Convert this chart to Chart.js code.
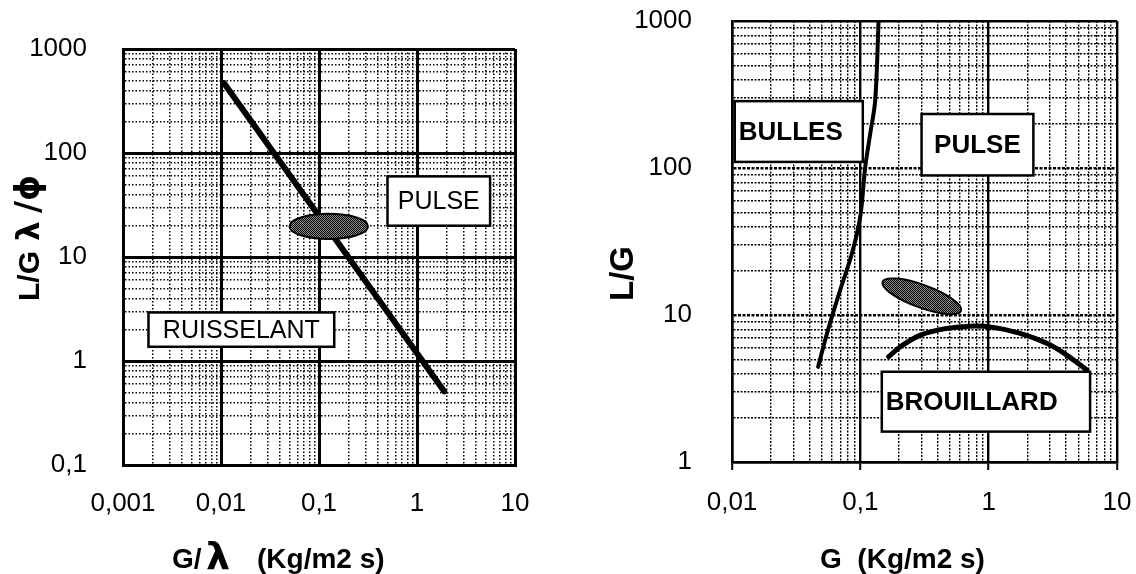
<!DOCTYPE html>
<html>
<head>
<meta charset="utf-8">
<title>Régimes d'écoulement</title>
<script src="https://cdn.jsdelivr.net/npm/chart.js@4.4.1/dist/chart.umd.min.js"></script>
<style>
  body { margin: 0; background: #fff; }
  #left { position: absolute; left: 0; top: 0; }
  #right { position: absolute; left: 568px; top: 0; }
</style>
</head>
<body>
<canvas id="left" width="568" height="574"></canvas>
<canvas id="right" width="568" height="574"></canvas>
<script>
// ---- left graph : L/G λ/ϕ against G/λ ----
var leftXLabels = ['0,001', '0,01', '0,1', '1', '10'];
var leftYLabels = ['0,1', '1', '10', '100', '1000'];
var leftLineG = [0.0107, 1.9];
var leftLineLG = [470, 0.51];
var leftBlobG = [0.050, 0.316];   // ends of the long axis of the blob
var leftBlobLG = [19.7, 19.7];
var leftBoxes = ['PULSE', 'RUISSELANT'];
var leftBoxG = [[0.5, 5.57], [0.00182, 0.143]];
var leftBoxLG = [[59.6, 20], [2.93, 1.37]];

// ---- right graph : L/G against G ----
var rightXLabels = ['0,01', '0,1', '1', '10'];
var rightYLabels = ['1', '10', '100', '1000'];
var bullesG = [0.0469, 0.055, 0.0697, 0.086, 0.0998, 0.1092, 0.1195, 0.1306, 0.1387];
var bullesLG = [4.44, 7.5, 14.8, 26.2, 46.5, 101.7, 171.6, 289, 1000];
var brouillardG = [0.166, 0.205, 0.294, 0.473, 0.718, 1.09, 1.76, 2.84, 4.06, 5.82];
var brouillardLG = [5.2, 6.08, 7.30, 8.11, 8.40, 8.24, 7.50, 6.42, 5.34, 4.22];
var rightBlobG = [0.149, 0.61];
var rightBlobLG = [16.8, 10.7];
var rightBoxes = ['BULLES', 'PULSE', 'BROUILLARD'];
var rightBoxG = [[0.0105, 0.1045], [0.300, 2.23], [0.147, 6.17]];
var rightBoxLG = [[285, 110], [233, 89], [4.11, 1.61]];

Chart.defaults.font.family = "'Liberation Sans', Arial, sans-serif";
Chart.defaults.color = '#000';

function isDecade(v) {
  var l = Math.log10(v);
  return Math.abs(l - Math.round(l)) < 1e-6;
}
// chart.js puts a 1.5 tick in every decade, the paper grid has only 1..9
function keepWhole(scale) {
  scale.ticks = scale.ticks.filter(function (t) {
    var m = t.value / Math.pow(10, Math.floor(Math.log10(t.value) + 1e-9));
    return Math.abs(m - Math.round(m)) < 1e-6;
  });
}
// ticks.padding also pads the chart area, so drop that after fit
function fixHeight(h) {
  return function (s) { s.height = h; s.paddingLeft = 0; s.paddingRight = 0; };
}
function fixWidth(w) {
  return function (s) { s.width = w; s.paddingTop = 0; s.paddingBottom = 0; };
}
function decadeLabel(labels, minExp) {
  return function (v) {
    if (!isDecade(v)) return '';
    return labels[Math.round(Math.log10(v)) - minExp];
  };
}
function points(xs, ys) {
  return xs.map(function (x, i) { return {x: x, y: ys[i]}; });
}
function tickVal(c) { return c.tick ? c.tick.value : 1; }

function stipple() {
  var c = document.createElement('canvas');
  c.width = 2; c.height = 2;
  var g = c.getContext('2d');
  g.fillStyle = '#8c8c8c'; g.fillRect(0, 0, 2, 2);
  g.fillStyle = '#000'; g.fillRect(0, 0, 1, 1); g.fillRect(1, 1, 1, 1);
  return c;
}

// region boxes under the curves, blob on top
var overlay = {
  id: 'overlay',
  beforeDatasetsDraw: function (chart, args, o) {
    var ctx = chart.ctx, xs = chart.scales.x, ys = chart.scales.y;
    ctx.save();
    o.names.forEach(function (name, i) {
      var x0 = xs.getPixelForValue(o.g[i][0]), x1 = xs.getPixelForValue(o.g[i][1]);
      var y0 = ys.getPixelForValue(o.lg[i][0]), y1 = ys.getPixelForValue(o.lg[i][1]);
      ctx.fillStyle = '#fff';
      ctx.fillRect(x0, y0, x1 - x0, y1 - y0);
      ctx.lineWidth = 2.5; ctx.strokeStyle = '#000';
      ctx.strokeRect(x0, y0, x1 - x0, y1 - y0);
      ctx.fillStyle = '#000'; ctx.font = o.font; ctx.textBaseline = 'middle';
      if (o.centred[i]) {
        ctx.textAlign = 'center';
        ctx.fillText(name, (x0 + x1) / 2, (y0 + y1) / 2 + 1);
      } else {
        ctx.textAlign = 'left';
        ctx.fillText(name, x0 + o.pad, (y0 + y1) / 2 + 1);
      }
    });
    ctx.restore();
  },
  afterDatasetsDraw: function (chart, args, o) {
    var ctx = chart.ctx, xs = chart.scales.x, ys = chart.scales.y;
    var ax = xs.getPixelForValue(o.blobG[0]), ay = ys.getPixelForValue(o.blobLG[0]);
    var bx = xs.getPixelForValue(o.blobG[1]), by = ys.getPixelForValue(o.blobLG[1]);
    var a = Math.hypot(bx - ax, by - ay) / 2;
    ctx.save();
    ctx.beginPath();
    ctx.ellipse((ax + bx) / 2, (ay + by) / 2, a, a * o.ratio, Math.atan2(by - ay, bx - ax), 0, 2 * Math.PI);
    ctx.fillStyle = ctx.createPattern(stipple(), 'repeat');
    ctx.fill();
    ctx.lineWidth = 2; ctx.strokeStyle = '#000';
    ctx.stroke();
    ctx.restore();
  },
  afterDraw: function (chart, args, o) {
    var ctx = chart.ctx;
    ctx.save();
    ctx.fillStyle = '#000';
    ctx.textAlign = 'left'; ctx.textBaseline = 'alphabetic';
    o.titles(ctx);
    ctx.restore();
  }
};

function leftTitles(ctx) {
  ctx.font = 'bold 28px "Liberation Sans"';
  ctx.fillText('G/', 172, 568);
  ctx.font = 'bold 38px "DejaVu Sans"';
  ctx.fillText('λ', 206, 569);
  ctx.font = 'bold 28px "Liberation Sans"';
  ctx.fillText('(Kg/m2 s)', 257, 568);

  ctx.translate(39, 301);
  ctx.rotate(-Math.PI / 2);
  ctx.font = 'bold 30px "Liberation Sans"';
  ctx.fillText('L/G', 0, 0);
  ctx.font = 'bold 31px "DejaVu Sans"';
  ctx.fillText('λ', 60, 0);
  ctx.font = 'bold 33px "DejaVu Sans"';
  ctx.fillText('/ϕ', 88, 0);
}

function rightTitles(ctx) {
  ctx.font = 'bold 28px "Liberation Sans"';
  ctx.fillText('G  (Kg/m2 s)', 252, 568);
  ctx.translate(65, 301);
  ctx.rotate(-Math.PI / 2);
  ctx.font = 'bold 33px "Liberation Sans"';
  ctx.fillText('L/G', 0, 0);
}

// left graph: solid thick decades, dotted minor lines
var leftGrid = {
  color: '#000',
  lineWidth: function (c) { return isDecade(tickVal(c)) ? 3 : 1.5; },
  drawTicks: false
};
var leftBorder = {
  color: '#000', width: 3,
  dash: function (c) { return c.tick && !isDecade(c.tick.value) ? [1.5, 2] : []; }
};

new Chart(document.getElementById('left'), {
  type: 'scatter',
  data: {
    datasets: [{
      data: points(leftLineG, leftLineLG),
      showLine: true, pointRadius: 0,
      borderColor: '#000', borderWidth: 6, borderCapStyle: 'round'
    }]
  },
  options: {
    responsive: false, animation: false, events: [],
    layout: {padding: {left: 0, top: 49, right: 53, bottom: 0}},
    scales: {
      x: {
        type: 'logarithmic', min: 0.001, max: 10,
        afterBuildTicks: keepWhole,
        afterFit: fixHeight(109),
        grid: leftGrid, border: leftBorder,
        ticks: {
          autoSkip: false, maxRotation: 0, padding: 23,
          font: {size: 26}, callback: decadeLabel(leftXLabels, -3)
        }
      },
      y: {
        type: 'logarithmic', min: 0.1, max: 1000,
        afterBuildTicks: keepWhole,
        afterFit: fixWidth(123),
        grid: leftGrid, border: leftBorder,
        ticks: {
          autoSkip: false, padding: 36,
          font: {size: 26}, callback: decadeLabel(leftYLabels, -1)
        }
      }
    },
    plugins: {
      legend: {display: false}, tooltip: {enabled: false},
      overlay: {
        names: leftBoxes, g: leftBoxG, lg: leftBoxLG,
        font: '25px "Liberation Sans"', centred: [true, true], pad: 6,
        blobG: leftBlobG, blobLG: leftBlobLG, ratio: 0.32,
        titles: leftTitles
      }
    }
  },
  plugins: [overlay]
});

// right graph: wavy-looking dashed paper grid
new Chart(document.getElementById('right'), {
  type: 'scatter',
  data: {
    datasets: [{
      data: points(bullesG, bullesLG),
      showLine: true, pointRadius: 0, tension: 0.35,
      borderColor: '#000', borderWidth: 4, borderCapStyle: 'round'
    }, {
      data: points(brouillardG, brouillardLG),
      showLine: true, pointRadius: 0, tension: 0.35,
      borderColor: '#000', borderWidth: 5, borderCapStyle: 'round'
    }]
  },
  options: {
    responsive: false, animation: false, events: [],
    layout: {padding: {left: 0, top: 21, right: 19, bottom: 0}},
    scales: {
      x: {
        type: 'logarithmic', min: 0.01, max: 10,
        afterBuildTicks: keepWhole,
        afterFit: fixHeight(112),
        grid: {
          color: '#000',
          lineWidth: function (c) { return isDecade(tickVal(c)) ? 2.4 : 1.4; },
          drawTicks: true, tickLength: 8, tickWidth: 2,
          tickColor: function (c) { return isDecade(tickVal(c)) ? '#000' : 'rgba(0,0,0,0)'; }
        },
        border: {
          color: '#000', width: 2.5,
          dash: function (c) { return c.tick && !isDecade(c.tick.value) ? [2, 1.5] : []; }
        },
        ticks: {
          autoSkip: false, maxRotation: 0, padding: 17,
          font: {size: 26}, callback: decadeLabel(rightXLabels, -2)
        }
      },
      y: {
        type: 'logarithmic', min: 1, max: 1000,
        afterBuildTicks: keepWhole,
        afterFit: fixWidth(164),
        grid: {
          color: '#000',
          lineWidth: function (c) { return isDecade(tickVal(c)) ? 2.6 : 1.4; },
          drawTicks: false
        },
        border: {
          color: '#000', width: 2.5,
          dash: function (c) {
            if (!c.tick) return [];
            var v = c.tick.value;
            if (!isDecade(v)) return [2, 1.5];
            return (v > 1.5 && v < 500) ? [3, 1.5] : [];
          }
        },
        ticks: {
          autoSkip: false, padding: 40,
          font: {size: 26}, callback: decadeLabel(rightYLabels, 0)
        }
      }
    },
    plugins: {
      legend: {display: false}, tooltip: {enabled: false},
      overlay: {
        names: rightBoxes, g: rightBoxG, lg: rightBoxLG,
        font: 'bold 26px "Liberation Sans"', centred: [false, true, false], pad: 4,
        blobG: rightBlobG, blobLG: rightBlobLG, ratio: 0.27,
        titles: rightTitles
      }
    }
  },
  plugins: [overlay]
});
</script>
</body>
</html>
